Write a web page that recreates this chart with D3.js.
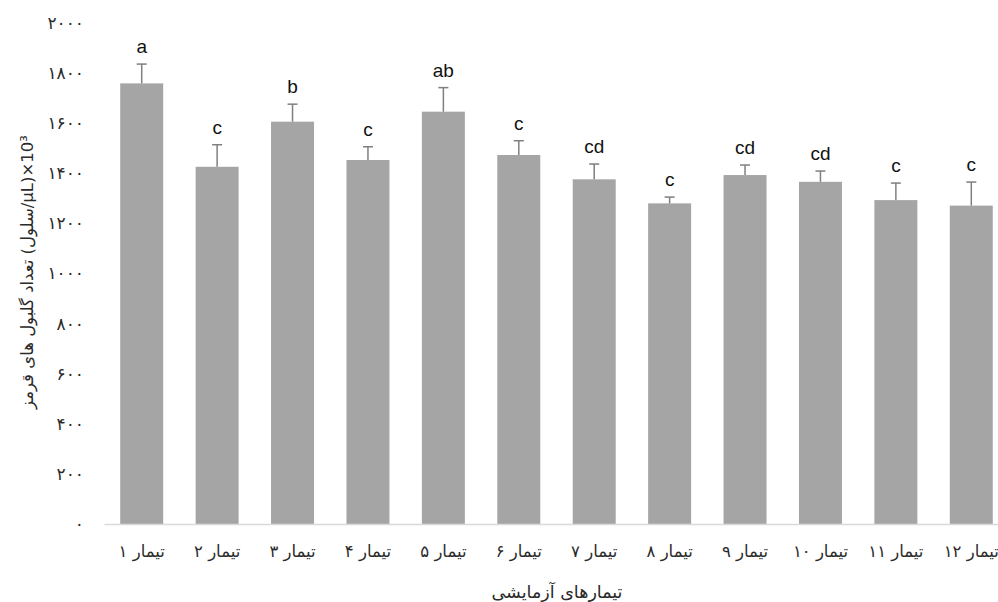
<!DOCTYPE html>
<html>
<head>
<meta charset="utf-8">
<script src="https://cdn.jsdelivr.net/npm/d3@7"></script>
<style>
  html, body { margin: 0; padding: 0; background: #fff; }
  svg { display: block; }
</style>
</head>
<body>
<svg id="chart" width="998" height="602"></svg>
<script>
// Treatment groups, red blood cell means, standard errors and significance letters
const categories = ["تیمار ۱", "تیمار ۲", "تیمار ۳", "تیمار ۴", "تیمار ۵", "تیمار ۶",
                    "تیمار ۷", "تیمار ۸", "تیمار ۹", "تیمار ۱۰", "تیمار ۱۱", "تیمار ۱۲"];
const means   = [1759, 1426, 1606, 1453, 1646, 1473, 1376, 1280, 1393, 1366, 1293, 1271];
const errors  = [77, 88, 70, 53, 96, 57, 61, 25, 40, 43, 68, 94];
const letters = ["a", "c", "b", "c", "ab", "c", "cd", "c", "cd", "cd", "c", "c"];
const yTicks  = [0, 200, 400, 600, 800, 1000, 1200, 1400, 1600, 1800, 2000];

const yTitle = "تعداد گلبول های قرمز\u200E (سلول/µL)×10³";
const xTitle = "تیمارهای آزمایشی";

const faDigits = "۰۱۲۳۴۵۶۷۸۹";
const toFa = n => String(n).replace(/\d/g, d => faDigits[+d]);

const svg = d3.select("#chart");
const persianFont = "'DejaVu Sans', sans-serif";
const textColor = "#2a2a2a";

const x = d3.scaleBand()
  .domain(categories)
  .range([104, 1009])
  .paddingInner(0.43)
  .paddingOuter(0.215);

const y = d3.scaleLinear().domain([0, 2000]).range([524, 23]);

// y-axis tick labels (no axis line)
const yAxis = svg.append("g")
  .attr("transform", "translate(104,0)")
  .call(d3.axisLeft(y).tickValues(yTicks).tickSize(0).tickPadding(20).tickFormat(toFa));
yAxis.select(".domain").remove();
yAxis.selectAll("text")
  .attr("font-family", persianFont)
  .attr("font-size", 17)
  .style("letter-spacing", "3px")
  .attr("fill", textColor);

// bars
svg.append("g").selectAll("rect")
  .data(means)
  .join("rect")
  .attr("x", (d, i) => x(categories[i]))
  .attr("y", d => y(d))
  .attr("width", x.bandwidth())
  .attr("height", d => y(0) - y(d))
  .attr("fill", "#a5a5a5");

// upper error bars
const eg = svg.append("g").attr("stroke", "#7f7f7f").attr("stroke-width", 1.5);
means.forEach((m, i) => {
  const cx = x(categories[i]) + x.bandwidth() / 2;
  eg.append("line")
    .attr("x1", cx).attr("x2", cx)
    .attr("y1", y(m)).attr("y2", y(m + errors[i]));
  eg.append("line")
    .attr("x1", cx - 5).attr("x2", cx + 5)
    .attr("y1", y(m + errors[i])).attr("y2", y(m + errors[i]));
});

// significance letters
svg.append("g").selectAll("text")
  .data(letters)
  .join("text")
  .attr("x", (d, i) => x(categories[i]) + x.bandwidth() / 2)
  .attr("y", (d, i) => y(means[i] + errors[i]) - 11)
  .attr("text-anchor", "middle")
  .attr("font-family", "'Liberation Sans', Arial, sans-serif")
  .attr("font-size", 19)
  .attr("fill", "#111")
  .text(d => d);

// x axis baseline and category labels
const xAxis = svg.append("g")
  .attr("transform", `translate(0,${y(0)})`)
  .call(d3.axisBottom(x).tickSize(0).tickPadding(21));
xAxis.select(".domain").attr("stroke", "#d9d9d9").attr("stroke-width", 1.5);
xAxis.selectAll("text")
  .attr("font-family", persianFont)
  .attr("font-size", 16.5)
  .attr("fill", textColor);

// axis titles
svg.append("text")
  .attr("transform", "translate(33,272) rotate(-90)")
  .attr("text-anchor", "middle")
  .attr("direction", "ltr")
  .attr("font-family", persianFont)
  .attr("font-size", 16.5)
  .attr("fill", textColor)
  .text(yTitle);

svg.append("text")
  .attr("x", 557)
  .attr("y", 598)
  .attr("text-anchor", "middle")
  .attr("font-family", persianFont)
  .attr("font-size", 17.5)
  .attr("fill", textColor)
  .text(xTitle);
</script>
</body>
</html>
